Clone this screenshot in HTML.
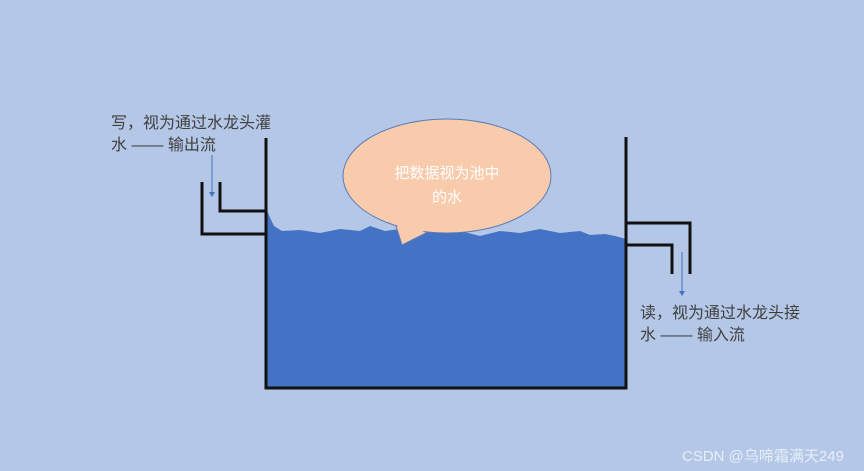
<!DOCTYPE html>
<html><head><meta charset="utf-8"><style>
html,body{margin:0;padding:0;}
body{width:864px;height:471px;background:#b4c7e7;overflow:hidden;font-family:"Liberation Sans","Noto Sans CJK SC",sans-serif;}
</style></head><body>
<svg width="864" height="471" xmlns="http://www.w3.org/2000/svg" style="position:absolute;left:0;top:0">
<rect width="864" height="471" fill="#b4c7e7"/>
<path d="M266 208 Q270 218 274 226 L282 231 L300 230 L320 233 L340 229 L360 231 L370 226 L385 231 L400 229 L420 232 L440 228 L460 231 L480 236 L500 231 L520 233 L540 229 L560 233 L580 231 L590 235 L605 234 L615 236 L626 239 L626 388 L266 388 Z" fill="#4472c4"/>
<g stroke="#111" stroke-width="3" fill="none">
<path d="M266 138 L266 388 L626 388 L626 137"/>
<path d="M220 182 L220 211 L266 211"/>
<path d="M202 182 L202 234 L266 234"/>
<path d="M626 223 L690 223 L690 274"/>
<path d="M626 245 L672 245 L672 274"/>
</g>
<g stroke="#4472c4" stroke-width="1">
<line x1="212" y1="155" x2="212" y2="193"/>
<line x1="682" y1="252" x2="682" y2="292"/>
</g>
<path d="M209 192 L215 192 L212 197Z" fill="#4472c4"/>
<path d="M679 291 L685 291 L682 296Z" fill="#4472c4"/>
<path d="M396 226 L402 245 L430 231" fill="#f8cbad" stroke="#5b7bb5" stroke-width="1"/>
<ellipse cx="447" cy="176" rx="104" ry="57" fill="#f8cbad" stroke="#5b7bb5" stroke-width="1"/>
<path d="M397 224 L402 243 L428 229 Z" fill="#f8cbad"/>
<text x="447" y="178" font-size="15" fill="#fff" text-anchor="middle" font-family="Liberation Sans,Noto Sans CJK SC,sans-serif">把数据视为池中</text>
<text x="447" y="202" font-size="15" fill="#fff" text-anchor="middle" font-family="Liberation Sans,Noto Sans CJK SC,sans-serif">的水</text>
<g font-size="16" fill="#404040" font-family="Liberation Sans,Noto Sans CJK SC,sans-serif">
<text x="111" y="128">写，视为通过水龙头灌</text>
<text x="111" y="150">水 —— 输出流</text>
<text x="640" y="318">读，视为通过水龙头接</text>
<text x="640" y="340">水 —— 输入流</text>
</g>
<text x="682" y="461" font-size="15" fill="#e8eef8" font-family="Liberation Sans,Noto Sans CJK SC,sans-serif">CSDN @乌啼霜满天249</text>
</svg>
</body></html>
